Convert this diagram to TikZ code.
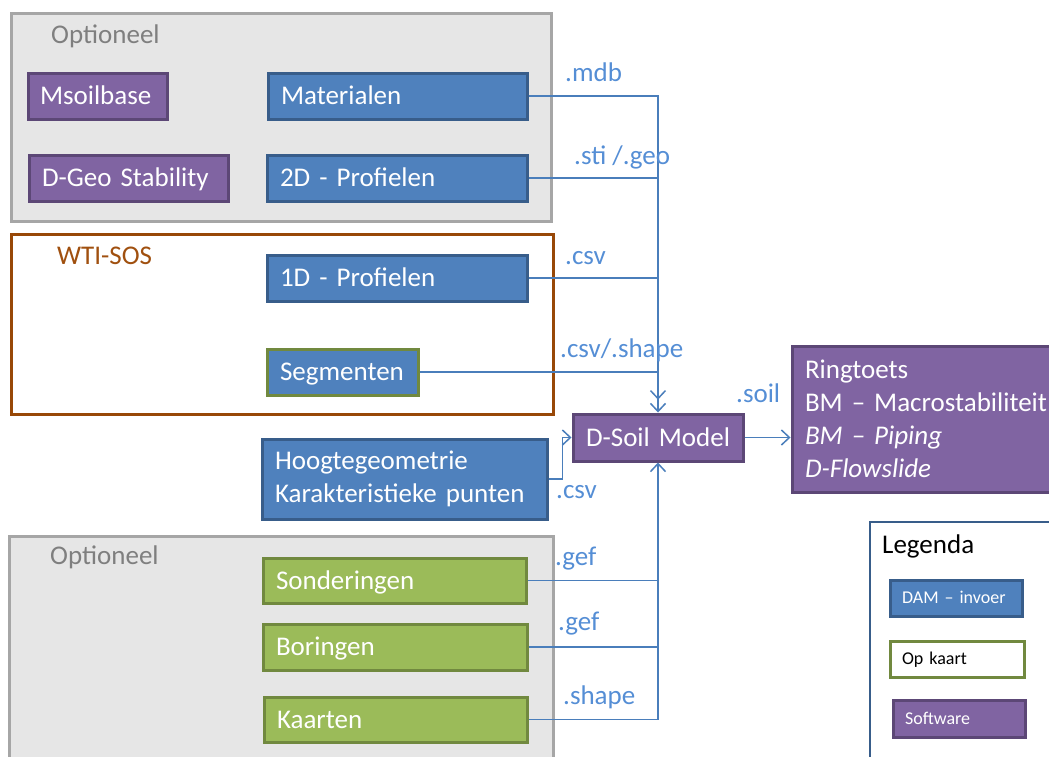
\documentclass[tikz,border=0pt]{standalone}
\usepackage{fontspec}
\setmainfont{Carlito}
\usetikzlibrary{arrows.meta}
\definecolor{bfill}{HTML}{4F81BD}
\definecolor{bline}{HTML}{385D8A}
\definecolor{pfill}{HTML}{8064A2}
\definecolor{pline}{HTML}{5C4776}
\definecolor{gfill}{HTML}{9BBB59}
\definecolor{gline}{HTML}{71893F}
\definecolor{cfill}{HTML}{E6E6E6}
\definecolor{cline}{HTML}{A6A6A6}
\definecolor{ctext}{HTML}{7F7F7F}
\definecolor{wline}{HTML}{984807}
\definecolor{wtext}{HTML}{A0500F}
\definecolor{conn}{HTML}{4A7EBB}
\definecolor{ltext}{HTML}{558ED5}
\tikzset{
  box/.style={draw, line width=3pt, text=white, align=left, inner xsep=13pt, inner ysep=0pt, minimum height=46pt},
  oneline/.style={text height=17.5pt, text depth=0pt},
  dambox/.style={box, fill=bfill, draw=bline},
  swbox/.style={box, fill=pfill, draw=pline},
  mapbox/.style={box, fill=gfill, draw=gline},
  group/.style={draw, line width=3pt, inner sep=0pt},
  optgroup/.style={group, fill=cfill, draw=cline},
  grouplabel/.style={anchor=west, inner sep=0pt},
  flow/.style={draw=conn, line width=1.5pt},
  barb/.tip={Straight Barb[length=8pt,width=15pt,line width=1.5pt]},
  flowarrow/.style={flow, -barb},
  ext/.style={anchor=west, inner sep=0pt, text=ltext},
  small/.style={font=\fontsize{18}{22}\selectfont, minimum height=36pt, inner xsep=12pt, text height=11.6pt, text depth=0pt}
}
\begin{document}
\begin{tikzpicture}[x=1pt,y=-1pt,font=\fontsize{27}{33}\selectfont]
\useasboundingbox (0,0) rectangle (1049,756);
\clip (0,0) rectangle (1049,756);
% groups
\node[optgroup, minimum width=540pt, minimum height=208pt] (opt1) at (281,117) {};
\node[grouplabel, text=ctext] (opt1lab) at (51,36) {Optioneel};
\node[group, draw=wline, fill=white, minimum width=542pt, minimum height=180pt] (wti) at (282,324) {};
\node[grouplabel, text=wtext] (wtilab) at (57,256) {WTI-SOS};
\node[optgroup, minimum width=544pt, minimum height=254pt] (opt2) at (281,663) {};
\node[grouplabel, text=ctext] (opt2lab) at (50,557) {Optioneel};
\node[group, draw=bline, fill=white, line width=2.5pt, minimum width=200pt, minimum height=268pt] (leg) at (970,656) {};
\node[grouplabel, text=black] (leglab) at (882,546) {Legenda};
% boxes
\node[swbox, oneline, minimum width=139pt, text width=115pt, inner xsep=12pt] (msoil) at (97.5,96) {Msoilbase};
\node[dambox, oneline, minimum width=259pt, text width=233pt] (mat) at (397.5,96) {Materialen};
\node[swbox, oneline, minimum width=199pt, text width=173pt] (dgeo) at (128.5,178) {\mbox{D-Geo Stability}};
\node[dambox, oneline, minimum width=260pt, text width=234pt] (p2d) at (397,178) {2D - Profielen};
\node[dambox, oneline, minimum width=260pt, text width=234pt] (p1d) at (397,278) {1D - Profielen};
\node[box, oneline, fill=bfill, draw=gline, minimum width=151pt, text width=125pt] (seg) at (342.5,372) {Segmenten};
\node[dambox, minimum width=285pt, text width=259pt, minimum height=80pt] (hoog) at (404.5,479) {Hoogtegeometrie\\\mbox{Karakteristieke punten}};
\node[swbox, oneline, minimum width=170pt, text width=144pt, minimum height=47pt] (dsoil) at (658,437.5) {\mbox{D-Soil Model}};
\node[swbox, minimum width=278pt, text width=252pt, minimum height=146pt] (ring) at (931,419) {Ringtoets\\\mbox{BM -- Macrostabiliteit}\\\textit{BM -- Piping}\\\textit{D-Flowslide}};
\node[mapbox, oneline, minimum width=263pt, text width=237pt, minimum height=45pt] (son) at (394.5,580.5) {Sonderingen};
\node[mapbox, oneline, minimum width=264pt, text width=238pt] (bor) at (395,647) {Boringen};
\node[mapbox, oneline, minimum width=263pt, text width=237pt, minimum height=45pt] (kaa) at (395.5,719.5) {Kaarten};
% legend items
\node[dambox, small, minimum width=132pt, text width=108pt] (legdam) at (956,598) {\mbox{DAM -- invoer}};
\node[box, small, fill=white, draw=gline, text=black, minimum width=134pt, text width=110pt] (legmap) at (957,659) {Op kaart};
\node[swbox, small, minimum width=132pt, text width=108pt, minimum height=37pt] (legsw) at (959,718.5) {Software};
% connectors
\draw[flow, -{barb[sep=3pt]barb}] (mat.east) -| (dsoil.north);
\draw[flow] (p2d.east) -- (p2d.east -| dsoil.north);
\draw[flow] (p1d.east) -- (p1d.east -| dsoil.north);
\draw[flow] (seg.east) -- (seg.east -| dsoil.north);
\draw[flowarrow] (kaa.east) -| (dsoil.south);
\draw[flow] (son.east) -- (son.east -| dsoil.south);
\draw[flow] (bor.east) -- (bor.east -| dsoil.south);
\draw[flowarrow] (hoog.east) -- ++(14,0) |- (dsoil.west);
\draw[flowarrow] (dsoil.east) -- (dsoil.east -| ring.west);
% connector labels
\node[ext] (lmdb) at (565,72) {.mdb};
\node[ext] (lsti) at (574,157) {.sti /.geo};
\node[ext] (lcsv1) at (565,258) {.csv};
\node[ext] (lcsvshape) at (560,350) {.csv/.shape};
\node[ext] (lsoil) at (736,393) {.soil};
\node[ext] (lcsv2) at (556,492) {.csv};
\node[ext] (lgef1) at (555,559) {.gef};
\node[ext] (lgef2) at (558,624) {.gef};
\node[ext] (lshape) at (563,697) {.shape};
\end{tikzpicture}
\end{document}
